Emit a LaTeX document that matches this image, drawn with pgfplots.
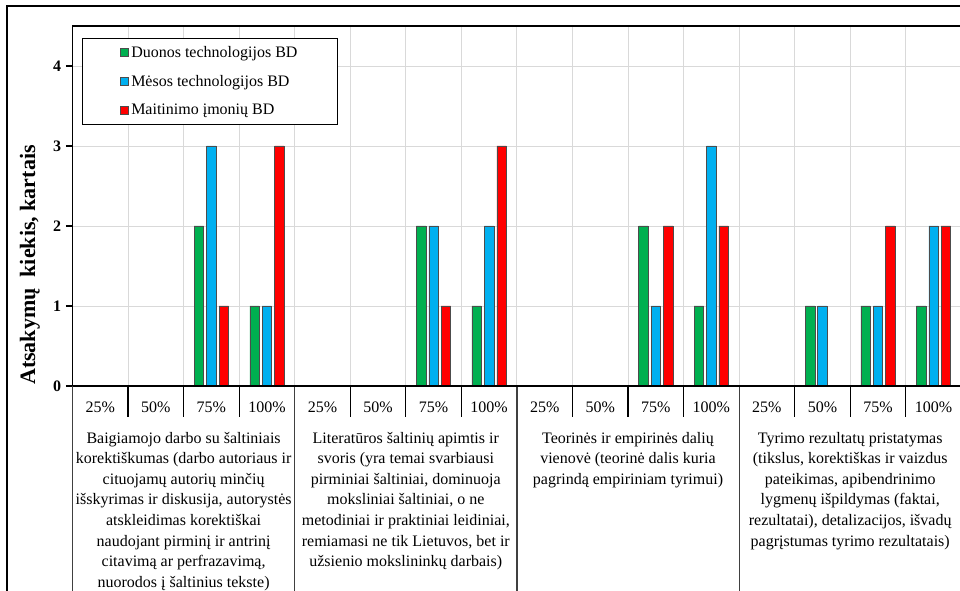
\documentclass[border=0pt]{standalone}
\usepackage{fontspec}
\setmainfont{Liberation Serif}
\usepackage{pgfplots}
\pgfplotsset{compat=1.18}
\usepackage{pgfplotstable}

\definecolor{cgreen}{HTML}{00B050}
\definecolor{cblue}{HTML}{00B0F0}
\definecolor{cred}{HTML}{FF0000}
\definecolor{gridgray}{HTML}{D9D9D9}

% x: 0-3 group 1, 4-7 group 2, 8-11 group 3, 12-15 group 4 (25%,50%,75%,100%)
\pgfplotstableread{
x  duonos mesos maitinimo
0  0 0 0
1  0 0 0
2  2 3 1
3  1 1 3
4  0 0 0
5  0 0 0
6  2 2 1
7  1 2 3
8  0 0 0
9  0 0 0
10 2 1 2
11 1 3 2
12 0 0 0
13 1 1 0
14 1 1 2
15 1 2 2
}\answers

\begin{document}
\begin{tikzpicture}
\begin{axis}[
    name=ax, at={(0,0)}, anchor=south west,
    scale only axis, width=666.6pt, height=270pt,
    xmin=-0.5, xmax=15.5, ymin=0, ymax=4.5,
    clip=false,
    ybar=2.2pt, bar width=7.1pt,
    axis line style={black, line width=0.9pt},
    tick align=outside, major tick length=5pt,
    xtick={0,...,15},
    xticklabels={25\%,50\%,75\%,100\%,25\%,50\%,75\%,100\%,25\%,50\%,75\%,100\%,25\%,50\%,75\%,100\%},
    xtick style={draw=none},
    minor xtick={-0.5,0.5,...,15.5},
    minor tick length=0pt,
    xminorgrids,
    ytick={0,...,4},
    yticklabels={0,1,2,3,4},
    ytick style={black, line width=0.8pt},
    ymajorgrids,
    major grid style={gridgray, line width=0.7pt},
    minor grid style={gridgray, line width=0.7pt},
    xticklabel style={font=\fontsize{12}{14}\selectfont, yshift=-3pt},
    yticklabel style={font=\fontsize{12}{14}\bfseries\selectfont},
    legend style={at={(0.0107,0.966)}, anchor=north west, draw=black,
        line width=0.9pt, inner xsep=28pt, inner ysep=3.5pt, row sep=8pt,
        font=\fontsize{12}{14}\selectfont},
    legend cell align=left,
    legend image code/.code={\draw[#1, draw=black!70, line width=0.5pt] (0pt,-3pt) rectangle (6pt,3pt);},
]
\addplot[fill=cgreen, draw=black!70, line width=0.4pt] table[x=x, y=duonos] {\answers};
\addplot[fill=cblue, draw=black!70, line width=0.4pt] table[x=x, y=mesos] {\answers};
\addplot[fill=cred, draw=black!70, line width=0.4pt] table[x=x, y=maitinimo] {\answers};
\legend{Duonos technologijos BD, Mėsos technologijos BD, Maitinimo įmonių BD}

% tick marks between categories
\pgfplotsinvokeforeach{-0.5,0.5,...,15.5}{
  \draw[black, line width=0.9pt] (axis cs:#1,0) -- ++(0pt,-23.25pt);
}
% group separators
\pgfplotsinvokeforeach{-0.5,3.5,7.5,11.5}{
  \draw[black!75, line width=0.9pt] (axis cs:#1,0) -- ++(0pt,-170pt);
}
% x axis line over the empty bars
\draw[black, line width=0.9pt] (axis cs:-0.5,0) -- (axis cs:15.5,0);

\begin{scope}[every node/.style={anchor=north, align=center, inner sep=0pt,
    font=\fontsize{12}{15.4}\selectfont}]
\node at ([yshift=-34.5pt]axis cs:1.5,0) {Baigiamojo darbo su šaltiniais\\
korektiškumas (darbo autoriaus ir\\
cituojamų autorių minčių\\
išskyrimas ir diskusija, autorystės\\
atskleidimas korektiškai\\
naudojant pirminį ir antrinį\\
citavimą ar perfrazavimą,\\
nuorodos į šaltinius tekste)};
\node at ([yshift=-34.5pt]axis cs:5.5,0) {Literatūros šaltinių apimtis ir\\
svoris (yra temai svarbiausi\\
pirminiai šaltiniai, dominuoja\\
moksliniai šaltiniai, o ne\\
metodiniai ir praktiniai leidiniai,\\
remiamasi ne tik Lietuvos, bet ir\\
užsienio mokslininkų darbais)};
\node at ([yshift=-34.5pt]axis cs:9.5,0) {Teorinės ir empirinės dalių\\
vienovė (teorinė dalis kuria\\
pagrindą empiriniam tyrimui)};
\node at ([yshift=-34.5pt]axis cs:13.5,0) {Tyrimo rezultatų pristatymas\\
(tikslus, korektiškas ir vaizdus\\
pateikimas, apibendrinimo\\
lygmenų išpildymas (faktai,\\
rezultatai), detalizacijos, išvadų\\
pagrįstumas tyrimo rezultatais)};
\end{scope}
\end{axis}

% y axis title
\node[rotate=90, font=\fontsize{16.5}{19}\bfseries\selectfont] at (-31.9pt,90.75pt) {Atsakymų\ \ kiekis, kartais};

% outer chart frame
\draw[black, line width=1.1pt] (-49.1pt,-170pt) -- (-49.1pt,285pt) -- (700pt,285pt);

\pgfresetboundingbox
\path[use as bounding box] (-54.375pt,-153.75pt) rectangle (665.625pt,289.5pt);
\end{tikzpicture}
\end{document}
